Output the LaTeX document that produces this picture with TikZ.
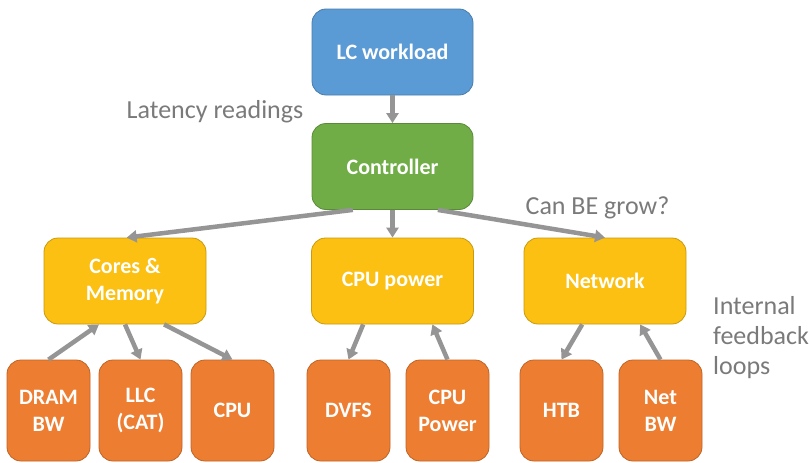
\documentclass[tikz,border=0pt]{standalone}
\usepackage{fontspec}
\setmainfont{Carlito}
\usetikzlibrary{arrows.meta,calc}

\definecolor{lcblue}{HTML}{5B9BD5}
\definecolor{ctrlgreen}{HTML}{70AD47}
\definecolor{ctlyellow}{HTML}{FBC012}
\definecolor{leaforange}{HTML}{ED7D31}
\definecolor{linkgray}{HTML}{959595}
\definecolor{notegray}{HTML}{7A7A7A}

\tikzset{
  box/.style={rectangle, rounded corners=14pt, line width=0.8pt,
    text=white, align=center, inner sep=0pt,
    font=\bfseries\fontsize{22}{27}\selectfont},
  topbox/.style={box, minimum width=161pt, minimum height=86pt},
  midbox/.style={box, fill=ctlyellow, draw=ctlyellow!80!black,
    minimum width=162pt, minimum height=86pt},
  leafbox/.style={box, fill=leaforange, draw=leaforange!80!black,
    minimum width=83pt, minimum height=101pt},
  link/.style={draw=linkgray, line width=4.5pt,
    -{Triangle[length=10pt,width=12pt]}},
  note/.style={text=notegray, font=\fontsize{26}{30}\selectfont, inner sep=0pt}
}

\begin{document}
\begin{tikzpicture}[x=1pt,y=-1pt]
\useasboundingbox (0,0) rectangle (809,463);

% top row
\node[topbox, fill=lcblue, draw=lcblue!80!black] (lc) at (392.5,52) {LC workload};
\node[topbox, fill=ctrlgreen, draw=ctrlgreen!80!black] (ctrl) at (392.5,166.5) {Controller};

% controller groups
\node[midbox] (cores) at (125,281) {Cores \&\\Memory};
\node[midbox] (power) at (392.5,281) {CPU power};
\node[midbox] (net) at (605,281) {Network};

% leaf mechanisms
\node[leafbox] (dram) at (48.5,410.5) {DRAM\\BW};
\node[leafbox] (llc) at (140.5,410.5) {LLC\\(CAT)};
\node[leafbox] (cpu) at (232.5,410.5) {CPU};
\node[leafbox] (dvfs) at (348.5,410.5) {DVFS};
\node[leafbox] (cpupow) at (447.5,410.5) {CPU\\Power};
\node[leafbox] (htb) at (561.5,410.5) {HTB};
\node[leafbox] (netbw) at (660.5,410.5) {Net\\BW};

% annotations
\node[note] (lat) at (215,112) {Latency readings};
\node[note] (grow) at (597.5,208) {Can BE grow?};
\node[note, anchor=west, align=left] (loops) at (713,338) {Internal\\feedback\\loops};

% controller links
\draw[link] (lc.south) -- (ctrl.north);
\draw[link] ($(ctrl.south west)!0.255!(ctrl.south east)$) -- ($(cores.north west)!0.51!(cores.north east)$);
\draw[link] (ctrl.south) -- (power.north);
\draw[link] ($(ctrl.south west)!0.78!(ctrl.south east)$) -- (net.north);

% cores & memory loops
\draw[link] (dram.north) -- ($(cores.south west)!0.34!(cores.south east)$);
\draw[link] (cores.south) -- (llc.north);
\draw[link] ($(cores.south west)!0.74!(cores.south east)$) -- (cpu.north);

% cpu power loops
\draw[link] ($(power.south west)!0.32!(power.south east)$) -- (dvfs.north);
\draw[link] (cpupow.north) -- ($(power.south west)!0.745!(power.south east)$);

% network loops
\draw[link] ($(net.south west)!0.36!(net.south east)$) -- (htb.north);
\draw[link] (netbw.north) -- ($(net.south west)!0.716!(net.south east)$);
\end{tikzpicture}
\end{document}
